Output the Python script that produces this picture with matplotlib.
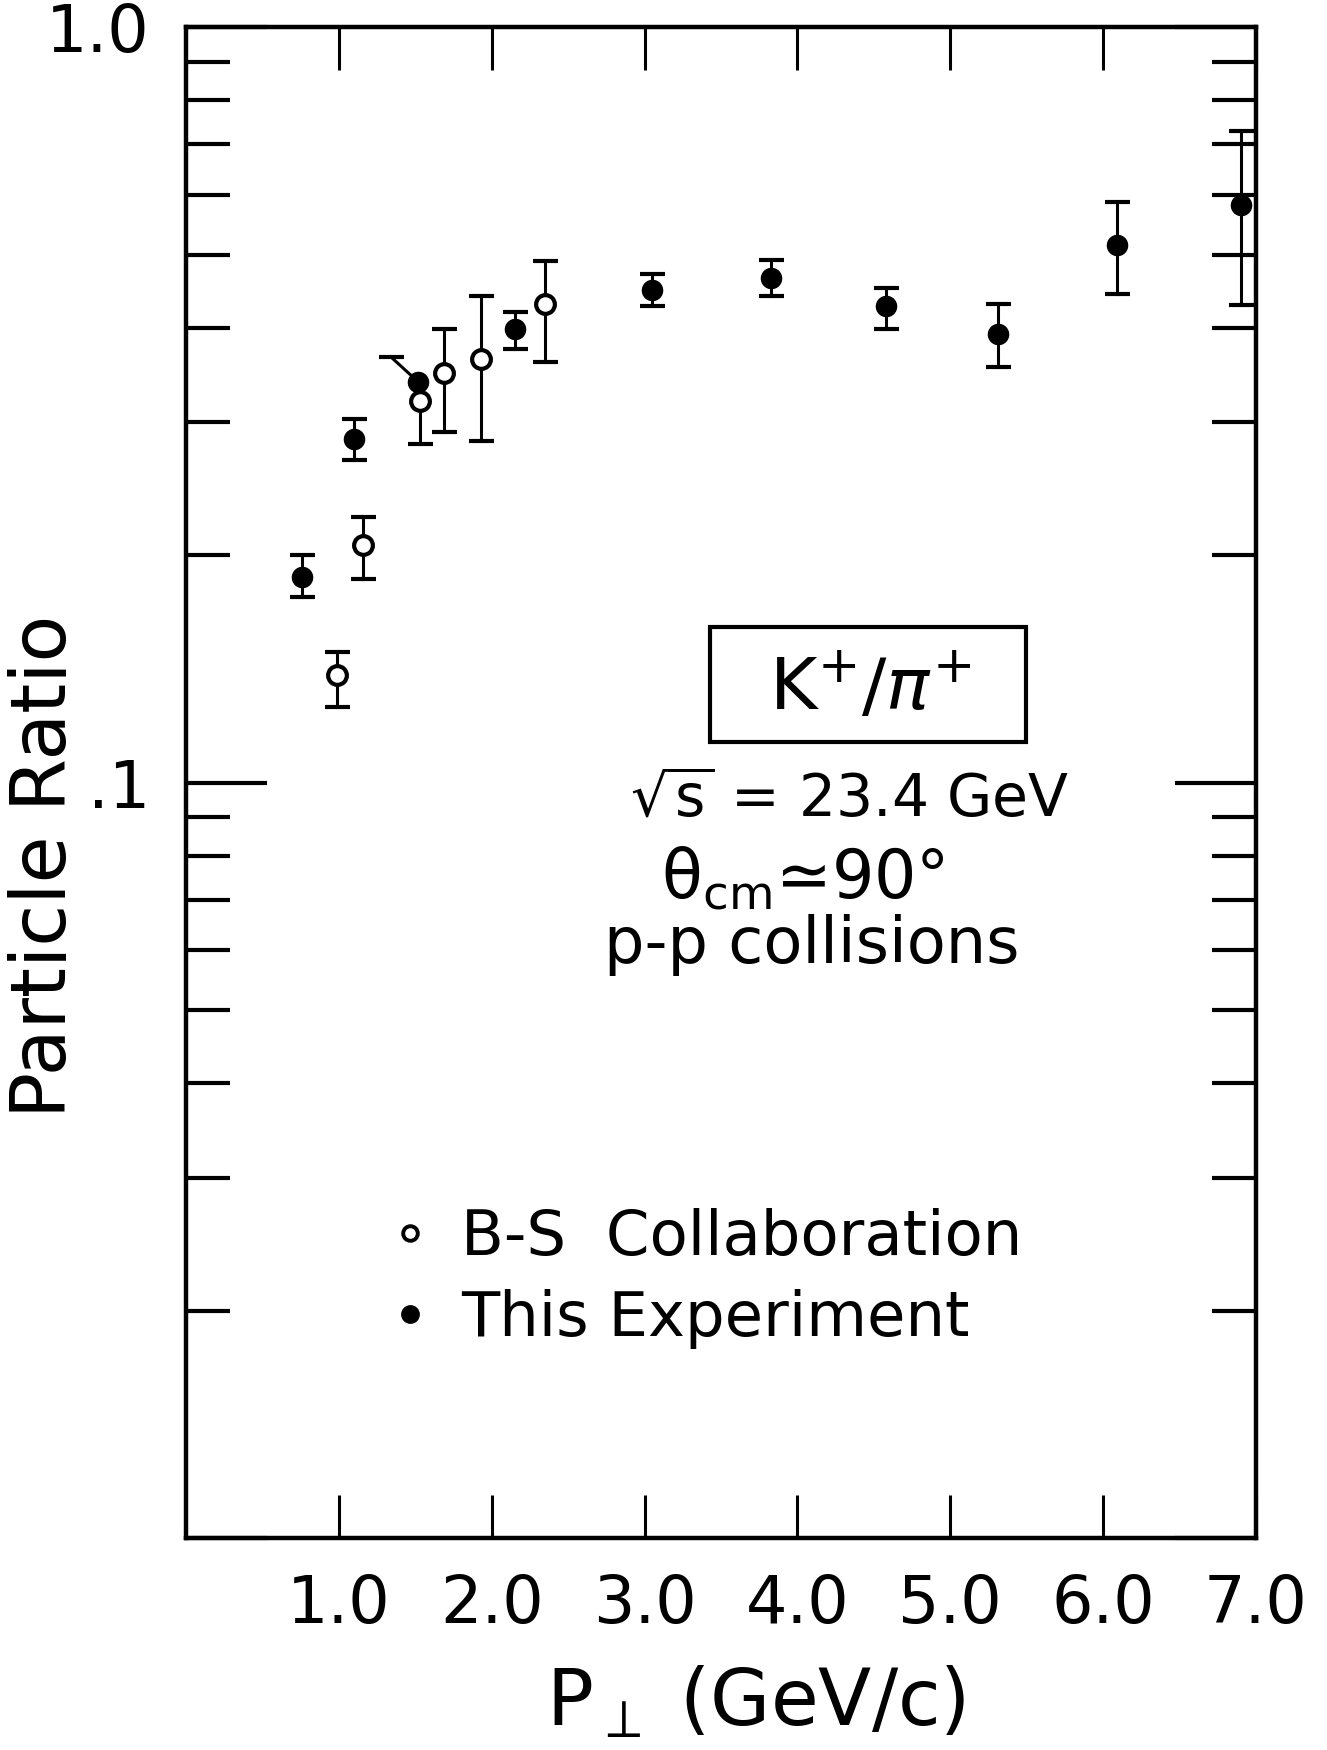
import numpy as np
import matplotlib.pyplot as plt
from matplotlib.lines import Line2D
from matplotlib.patches import Rectangle
from matplotlib.ticker import NullFormatter, NullLocator

plt.rcParams['font.family'] = ['DejaVu Sans']
plt.rcParams['mathtext.fontset'] = 'dejavusans'

# K+/pi+ ratio, this experiment (filled points)
exp_pt = [0.76, 1.10, 1.52, 2.15, 3.05, 3.83, 4.58, 5.31, 6.09, 6.90]
exp_ratio = [0.187, 0.285, 0.339, 0.398, 0.449, 0.465, 0.427, 0.393, 0.515, 0.581]
exp_hi = [0.200, 0.303, 0.366, 0.420, 0.471, 0.492, 0.452, 0.430, 0.586, 0.729]
exp_lo = [0.176, 0.267, np.nan, 0.375, 0.427, 0.440, 0.399, 0.355, 0.444, 0.429]
# upper bar of the 1.5 GeV/c point is pulled to the left so it clears the open point
exp_cap_pt = [np.nan, np.nan, 1.34, np.nan, np.nan, np.nan, np.nan, np.nan, np.nan, np.nan]

# B-S collaboration (open points)
bs_pt = [0.99, 1.16, 1.53, 1.69, 1.93, 2.35]
bs_ratio = [0.139, 0.206, 0.320, 0.348, 0.364, 0.430]
bs_hi = [0.149, 0.225, np.nan, 0.398, 0.440, 0.491]
bs_lo = [0.126, 0.186, 0.281, 0.291, 0.283, 0.360]

x_ticks = [1, 2, 3, 4, 5, 6, 7]
x_tick_labels = ['1.0', '2.0', '3.0', '4.0', '5.0', '6.0', '7.0']
y_ticks = [0.01, 0.1, 1.0]
y_tick_labels = ['', '.1', '1.0']
y_minor = [k * 10.0 ** e for e in (-2, -1) for k in range(2, 10)]


def draw_bars(ax, xs, ys, lo, hi, cap_x=None, z=2):
    for i in range(len(xs)):
        x, y = xs[i], ys[i]
        if not np.isnan(lo[i]):
            ax.plot([x, x], [lo[i], y], color='k', lw=2.2, zorder=z)
            ax.plot([x], [lo[i]], marker='_', ms=18, mew=3, color='k', zorder=z)
        if not np.isnan(hi[i]):
            xc = x
            if cap_x is not None and not np.isnan(cap_x[i]):
                xc = cap_x[i]
            ax.plot([x, xc], [y, hi[i]], color='k', lw=2.2, zorder=z)
            ax.plot([xc], [hi[i]], marker='_', ms=18, mew=3, color='k', zorder=z)


fig = plt.figure(figsize=(13.27, 17.5), dpi=100)
ax = fig.add_axes([0.1402, 0.1211, 0.8063, 0.8634])

draw_bars(ax, exp_pt, exp_ratio, exp_lo, exp_hi, exp_cap_pt, z=2)
ax.plot(exp_pt, exp_ratio, 'o', ms=14.5, mfc='k', mec='k', ls='none', zorder=3)
draw_bars(ax, bs_pt, bs_ratio, bs_lo, bs_hi, z=4)
ax.plot(bs_pt, bs_ratio, 'o', ms=13.5, mfc='white', mec='k', mew=3, ls='none', zorder=5)

ax.set_yscale('log')
ax.set_xlim(0, 7)
ax.set_ylim(0.01, 1.0)
ax.set_xticks(x_ticks, x_tick_labels)
ax.xaxis.set_minor_locator(NullLocator())
ax.set_yticks(y_ticks, y_tick_labels)
ax.set_yticks(y_minor, minor=True)
ax.yaxis.set_minor_formatter(NullFormatter())

ax.tick_params(axis='both', which='both', direction='in', top=True, right=True, colors='k')
ax.tick_params(axis='x', which='major', length=31, width=2.2, labelsize=47, pad=25)
ax.tick_params(axis='y', which='major', length=58, width=3, labelsize=47, pad=26)
ax.tick_params(axis='y', which='minor', length=32, width=3)
for s in ax.spines.values():
    s.set_linewidth(3.2)

# axis titles
fig.text(0.0339, 0.5051, 'Particle Ratio', rotation=90, ha='center', va='center', fontsize=55)
fig.text(0.5697, 0.0145, r'P$_{\perp}$ (GeV/c)', ha='center', va='baseline', fontsize=56)

# boxed reaction label and run conditions
fig.add_artist(Rectangle((0.535, 0.576), 0.238, 0.0657, transform=fig.transFigure,
                         fill=False, ec='k', lw=3))
fig.text(0.6556, 0.5943, r'K$^{+}$/$\pi^{+}$', ha='center', va='baseline', fontsize=52)
fig.text(0.6405, 0.5331, r'$\sqrt{\mathrm{s}}$ = 23.4 GeV', ha='center', va='baseline', fontsize=42)
fig.text(0.6051, 0.4869, r'θ$_{\mathrm{cm}}$≃90°', ha='center', va='baseline', fontsize=48)
fig.text(0.6119, 0.4497, 'p-p collisions', ha='center', va='baseline', fontsize=46)

handles = [
    Line2D([], [], marker='o', ms=10.5, mfc='white', mec='k', mew=2.8, ls='none'),
    Line2D([], [], marker='o', ms=12.5, mfc='k', mec='k', ls='none'),
]
fig.legend(handles, ['B-S  Collaboration', 'This Experiment'],
           loc='upper left', bbox_to_anchor=(397 / 1327, 1 - 1208 / 1750),
           bbox_transform=fig.transFigure, frameon=False, fontsize=45,
           borderpad=0, borderaxespad=0, handlelength=0.4, handletextpad=0.63,
           labelspacing=0.33)

fig.savefig('out.png', dpi=100)
